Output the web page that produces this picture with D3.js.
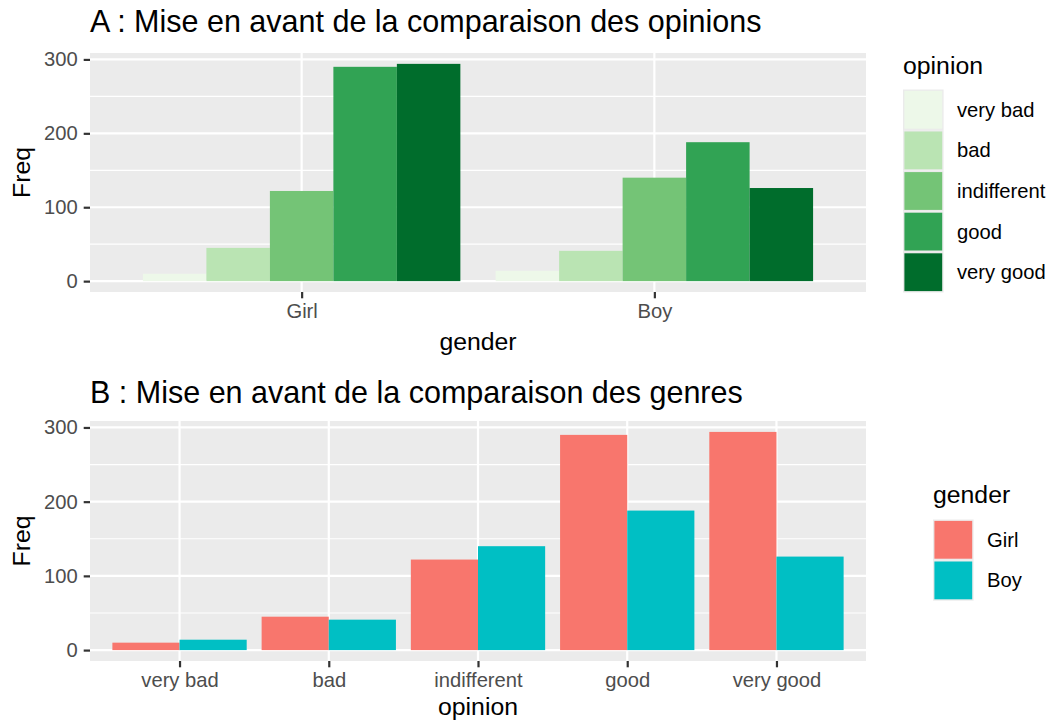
<!DOCTYPE html>
<html>
<head>
<meta charset="utf-8">
<script src="https://cdn.jsdelivr.net/npm/d3@7"></script>
<style>
  body { margin: 0; background: #fff; }
  text { font-family: "Liberation Sans", Arial, sans-serif; }
</style>
</head>
<body>
<div id="chart"></div>
<script>
// data
let genders = ["Girl", "Boy"];
let opinions = ["very bad", "bad", "indifferent", "good", "very good"];
let girlFreq = [10, 45, 122, 290, 294];
let boyFreq = [14, 41, 140, 188, 126];
let yTicks = [0, 100, 200, 300];
let yMinorTicks = [50, 150, 250];

let greens = ["#edf8e9", "#bae4b3", "#74c476", "#31a354", "#006d2c"];
let genderColors = ["#F8766D", "#00BFC4"];

let rows = [];
genders.forEach(function(g, gi) {
    opinions.forEach(function(o, oi) {
        rows.push({gender: g, opinion: o, freq: gi == 0 ? girlFreq[oi] : boyFreq[oi]});
    });
});

let svgWidth = 1055, svgHeight = 722;
let svg = d3.select("#chart").append("svg")
    .attr("width", svgWidth)
    .attr("height", svgHeight);

let maxFreq = d3.max(rows, d => d.freq);

let tickFont = "20.2px", titleFont = "24.8px";

// one ggplot-like panel: outer = x category, inner = dodge category
function drawPanel(opts) {
    let left = 90, right = 866;
    let top = opts.top, bottom = opts.bottom;

    let y = d3.scaleLinear()
        .domain([-maxFreq * 0.05, maxFreq * 1.05])
        .range([bottom, top]);

    let x = d3.scalePoint()
        .domain(opts.outer)
        .range([left, right])
        .padding(0.6);

    let step = x.step();
    let inner = d3.scaleBand()
        .domain(opts.inner)
        .range([-0.45 * step, 0.45 * step]);

    let color = d3.scaleOrdinal().domain(opts.inner).range(opts.colors);

    // panel background
    svg.append("rect")
        .attr("x", left).attr("y", top)
        .attr("width", right - left).attr("height", bottom - top)
        .attr("fill", "#ebebeb");

    // minor grid
    svg.append("g").selectAll("line")
        .data(yMinorTicks)
        .join("line")
        .attr("x1", left).attr("x2", right)
        .attr("y1", d => y(d)).attr("y2", d => y(d))
        .attr("stroke", "#fff").attr("stroke-width", 1.2);

    // major grid
    svg.append("g").selectAll("line")
        .data(yTicks)
        .join("line")
        .attr("x1", left).attr("x2", right)
        .attr("y1", d => y(d)).attr("y2", d => y(d))
        .attr("stroke", "#fff").attr("stroke-width", 2.2);

    svg.append("g").selectAll("line")
        .data(opts.outer)
        .join("line")
        .attr("x1", d => x(d)).attr("x2", d => x(d))
        .attr("y1", top).attr("y2", bottom)
        .attr("stroke", "#fff").attr("stroke-width", 2.2);

    // bars
    svg.append("g").selectAll("rect")
        .data(rows)
        .join("rect")
        .attr("x", d => x(d[opts.outerKey]) + inner(d[opts.innerKey]))
        .attr("width", inner.bandwidth())
        .attr("y", d => y(d.freq))
        .attr("height", d => y(0) - y(d.freq))
        .attr("fill", d => color(d[opts.innerKey]));

    // axes
    let yAxis = svg.append("g")
        .attr("transform", `translate(${left},0)`)
        .call(d3.axisLeft(y).tickValues(yTicks).tickSize(6.3).tickPadding(6));
    yAxis.select(".domain").remove();
    yAxis.selectAll("line").attr("stroke", "#333").attr("stroke-width", 2.2);
    yAxis.selectAll("text").attr("fill", "#4d4d4d").attr("font-size", tickFont)
        .style("font-family", "'Liberation Sans', Arial, sans-serif");

    let xAxis = svg.append("g")
        .attr("transform", `translate(0,${bottom})`)
        .call(d3.axisBottom(x).tickSize(6.3).tickPadding(5));
    xAxis.select(".domain").remove();
    xAxis.selectAll("line").attr("stroke", "#333").attr("stroke-width", 2.2);
    xAxis.selectAll("text").attr("fill", "#4d4d4d").attr("font-size", tickFont)
        .style("font-family", "'Liberation Sans', Arial, sans-serif");

    // titles
    svg.append("text")
        .attr("x", left).attr("y", opts.titleY)
        .attr("font-size", "30.5px").attr("fill", "#000")
        .text(opts.title);

    svg.append("text")
        .attr("x", (left + right) / 2).attr("y", opts.xTitleY)
        .attr("text-anchor", "middle")
        .attr("font-size", titleFont)
        .text(opts.xTitle);

    svg.append("text")
        .attr("transform", `translate(30,${(top + bottom) / 2}) rotate(-90)`)
        .attr("text-anchor", "middle")
        .attr("font-size", titleFont)
        .text("Freq");

    // legend
    let lg = svg.append("g");
    lg.append("text")
        .attr("x", opts.legendX).attr("y", opts.legendTitleY)
        .attr("font-size", titleFont)
        .text(opts.legendTitle);

    let keys = lg.selectAll("g.key")
        .data(opts.inner)
        .join("g")
        .attr("class", "key")
        .attr("transform", (d, i) => `translate(${opts.legendX},${opts.legendKeyY + i * 40.6})`);
    keys.append("rect")
        .attr("width", 40.6).attr("height", 40.6)
        .attr("fill", "#ebebeb");
    keys.append("rect")
        .attr("x", 1.4).attr("y", 1.4)
        .attr("width", 37.8).attr("height", 37.8)
        .attr("fill", d => color(d));
    keys.append("text")
        .attr("x", 54).attr("y", 20.3)
        .attr("dy", "0.35em")
        .attr("font-size", tickFont)
        .text(d => d);
}

drawPanel({
    top: 53, bottom: 292,
    outer: genders, outerKey: "gender",
    inner: opinions, innerKey: "opinion",
    colors: greens,
    title: "A : Mise en avant de la comparaison des opinions",
    titleY: 32,
    xTitle: "gender", xTitleY: 350,
    legendTitle: "opinion", legendX: 903, legendTitleY: 74, legendKeyY: 89.5
});

drawPanel({
    top: 421, bottom: 661,
    outer: opinions, outerKey: "opinion",
    inner: genders, innerKey: "gender",
    colors: genderColors,
    title: "B : Mise en avant de la comparaison des genres",
    titleY: 403,
    xTitle: "opinion", xTitleY: 715,
    legendTitle: "gender", legendX: 933, legendTitleY: 503, legendKeyY: 519.5
});
</script>
</body>
</html>
